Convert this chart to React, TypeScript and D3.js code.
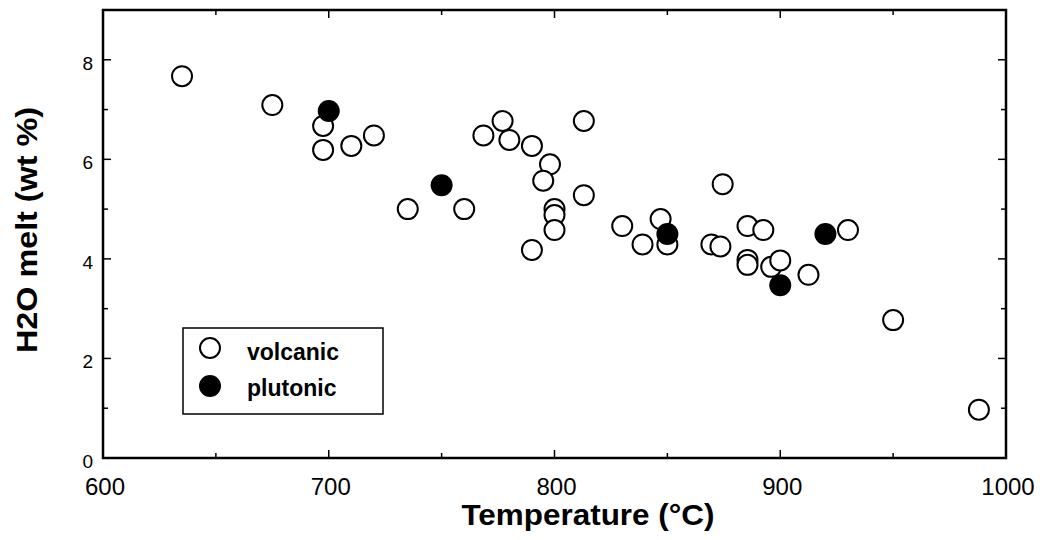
import React from "react";
import * as d3 from "d3";

const volcanicT = [635, 675, 697.5, 697.5, 710, 720, 735, 760, 768.5, 777, 780, 790, 798, 795, 813, 813, 800, 800, 800, 790, 830, 839, 847, 850, 874.5, 869.5, 873.5, 885.5, 892.5, 885.5, 885.5, 896, 900, 912.5, 930, 950, 988];
const volcanicW = [7.67, 7.09, 6.67, 6.19, 6.27, 6.48, 5.0, 5.0, 6.48, 6.77, 6.39, 6.27, 5.9, 5.57, 6.77, 5.28, 5.0, 4.88, 4.58, 4.18, 4.66, 4.29, 4.8, 4.29, 5.5, 4.29, 4.25, 4.66, 4.58, 3.98, 3.88, 3.84, 3.97, 3.68, 4.58, 2.77, 0.97];
const plutonicT = [700, 750, 850, 900, 920];
const plutonicW = [6.97, 5.48, 4.5, 3.47, 4.5];

const xMajor = [600, 700, 800, 900, 1000];
const xMinor = [650, 750, 850, 950];
const yMajor = [0, 2, 4, 6, 8];
const yMinor = [1, 3, 5, 7];

const legendItems = ["volcanic", "plutonic"];

const FONT = "'Liberation Sans', Arial, Helvetica, sans-serif";

export default function App() {
  const left = 103, right = 1006, top = 10, bottom = 458;
  const x = d3.scaleLinear().domain([600, 1000]).range([left, right]);
  const y = d3.scaleLinear().domain([0, 9]).range([bottom, top]);

  const ticks: JSX.Element[] = [];
  xMajor.forEach((v, i) => {
    ticks.push(<line key={"xb" + i} x1={x(v)} x2={x(v)} y1={bottom} y2={bottom - 8} stroke="#000" strokeWidth={1.5} />);
    ticks.push(<line key={"xt" + i} x1={x(v)} x2={x(v)} y1={top} y2={top + 8} stroke="#000" strokeWidth={1.5} />);
  });
  xMinor.forEach((v, i) => {
    ticks.push(<line key={"xbm" + i} x1={x(v)} x2={x(v)} y1={bottom} y2={bottom - 5} stroke="#000" strokeWidth={1.5} />);
    ticks.push(<line key={"xtm" + i} x1={x(v)} x2={x(v)} y1={top} y2={top + 5} stroke="#000" strokeWidth={1.5} />);
  });
  yMajor.forEach((v, i) => {
    ticks.push(<line key={"yl" + i} x1={left} x2={left + 8} y1={y(v)} y2={y(v)} stroke="#000" strokeWidth={1.5} />);
    ticks.push(<line key={"yr" + i} x1={right} x2={right - 8} y1={y(v)} y2={y(v)} stroke="#000" strokeWidth={1.5} />);
  });
  yMinor.forEach((v, i) => {
    ticks.push(<line key={"ylm" + i} x1={left} x2={left + 5} y1={y(v)} y2={y(v)} stroke="#000" strokeWidth={1.5} />);
    ticks.push(<line key={"yrm" + i} x1={right} x2={right - 5} y1={y(v)} y2={y(v)} stroke="#000" strokeWidth={1.5} />);
  });

  return (
    <svg width={1043} height={540} style={{ position: "absolute", left: 0, top: 0, background: "#fff" }} fontFamily={FONT}>
      <rect x={0} y={0} width={1043} height={540} fill="#fff" />
      {ticks}
      <rect x={left} y={top} width={right - left} height={bottom - top} fill="none" stroke="#000" strokeWidth={2.5} />

      {xMajor.map((v) => (
        <text key={"xl" + v} x={x(v) + 2} y={495} fontSize={24} textAnchor="middle" fill="#000">{v}</text>
      ))}
      {yMajor.map((v) => (
        <text key={"ylb" + v} x={93} y={y(v) + 10} fontSize={19} textAnchor="end" fill="#000">{v}</text>
      ))}

      <text x={588} y={525} fontSize={30} fontWeight="bold" textAnchor="middle" fill="#000" textLength={253} lengthAdjust="spacingAndGlyphs">Temperature (°C)</text>
      <text transform="translate(37,230) rotate(-90)" fontSize={30} fontWeight="bold" textAnchor="middle" fill="#000" textLength={246} lengthAdjust="spacingAndGlyphs">H2O melt (wt %)</text>

      {volcanicT.map((t, i) => (
        <circle key={"v" + i} cx={x(t)} cy={y(volcanicW[i])} r={10} fill="#fff" stroke="#000" strokeWidth={2} />
      ))}
      {plutonicT.map((t, i) => (
        <circle key={"p" + i} cx={x(t)} cy={y(plutonicW[i])} r={11} fill="#000" stroke="#000" strokeWidth={0} />
      ))}

      <rect x={183} y={328} width={200} height={86} fill="#fff" stroke="#000" strokeWidth={1.5} />
      {legendItems.map((name, i) => (
        <g key={name}>
          {i === 0 ? (
            <circle cx={210} cy={348} r={10} fill="#fff" stroke="#000" strokeWidth={2} />
          ) : (
            <circle cx={210} cy={386} r={11} fill="#000" />
          )}
          <text x={247} y={i === 0 ? 360 : 396} fontSize={23} fontWeight="bold" fill="#000">{name}</text>
        </g>
      ))}
    </svg>
  );
}
